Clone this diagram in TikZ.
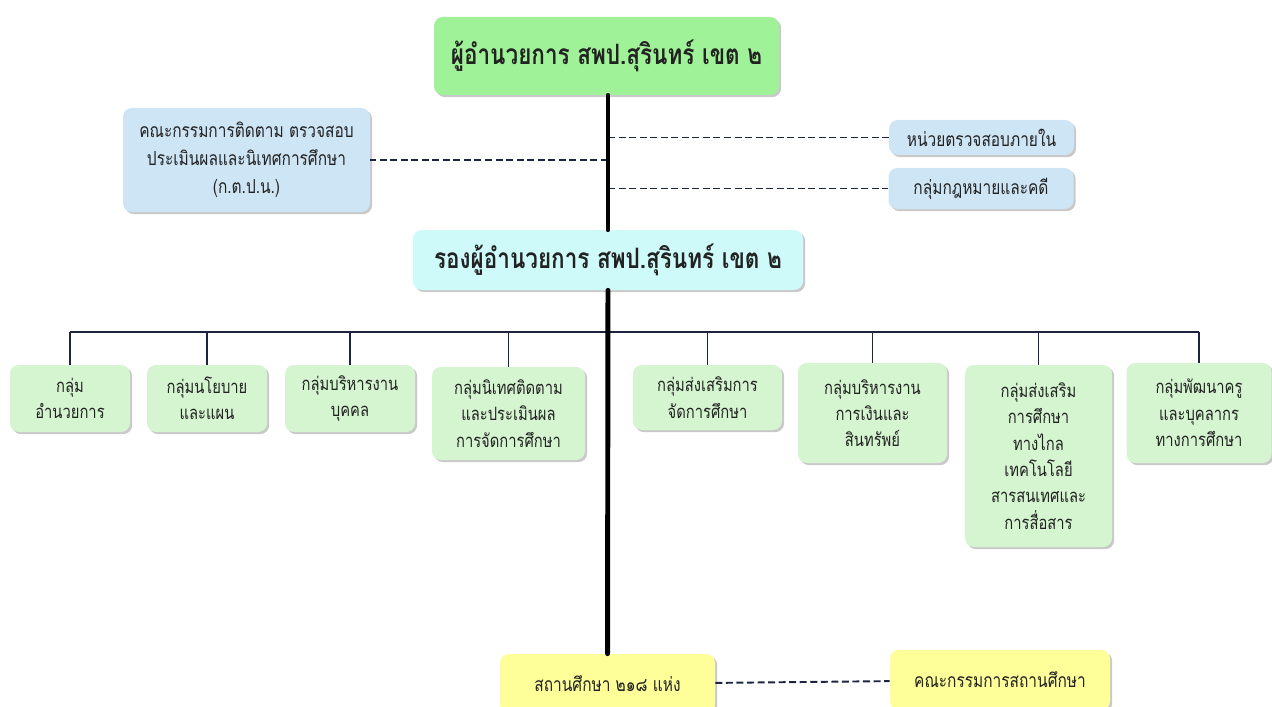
\documentclass[tikz,border=0pt]{standalone}
\usepackage{fontspec}
\usepackage{tikz}
\usetikzlibrary{shadows}
\newfontfamily\thai[Script=Thai,FakeStretch=0.8]{Loma}
\definecolor{headgreen}{RGB}{160,242,152}
\definecolor{paleblue}{RGB}{206,229,246}
\definecolor{palecyan}{RGB}{206,250,250}
\definecolor{groupgreen}{RGB}{213,245,208}
\definecolor{schoolyellow}{RGB}{255,255,153}
\definecolor{inkgray}{RGB}{34,34,34}
\definecolor{navyline}{RGB}{28,36,64}

\begin{document}
\begin{tikzpicture}

	\tikzset{unit/.style = {shape=rectangle,rounded corners=5pt,align=center,text=inkgray,inner sep=2pt,font=\thai\fontsize{11}{15}\selectfont,drop shadow={shadow xshift=1.2pt,shadow yshift=-1.2pt,opacity=0.3,fill=black!70}}}
	\tikzset{group/.style = {unit,fill=groupgreen,font=\thai\fontsize{10.5}{15}\selectfont}}
	\tikzset{head/.style = {unit,font=\thai\bfseries\fontsize{16}{18}\selectfont}}
	\tikzset{trunk/.style = {line width=2.8pt,line cap=round}}
	\tikzset{bus/.style = {line width=1.1pt,draw=navyline}}
	\tikzset{dashline/.style = {line width=1.1pt,draw=navyline,dash pattern=on 4pt off 2pt}}

	\useasboundingbox (0,0) rectangle (25.44,-14.12);
	\clip (0,0) rectangle (25.44,-14.12);

	% director and deputy
	\node[head,fill=headgreen,minimum width=6.9cm,minimum height=1.56cm] (top) at (12.13,-1.12) {ผู้อำนวยการ สพป.สุรินทร์ เขต ๒};
	\node[head,fill=palecyan,minimum width=7.8cm,minimum height=1.2cm] (rong) at (12.16,-5.2) {รองผู้อำนวยการ สพป.สุรินทร์ เขต ๒};

	% side units
	\node[unit,fill=paleblue,minimum width=4.94cm,minimum height=2.08cm,font=\thai\fontsize{11}{16}\selectfont] (kpn) at (4.93,-3.2) {คณะกรรมการติดตาม ตรวจสอบ\\ประเมินผลและนิเทศการศึกษา\\(ก.ต.ป.น.)};
	\node[unit,fill=paleblue,minimum width=3.7cm,minimum height=0.7cm] (audit) at (19.63,-2.75) {หน่วยตรวจสอบภายใน};
	\node[unit,fill=paleblue,minimum width=3.7cm,minimum height=0.82cm] (law) at (19.62,-3.77) {กลุ่มกฎหมายและคดี};

	% groups
	\node[group,minimum width=2.4cm,minimum height=1.34cm] (g1) at (1.4,-7.97) {กลุ่ม\\อำนวยการ};
	\node[group,minimum width=2.4cm,minimum height=1.34cm] (g2) at (4.14,-7.97) {กลุ่มนโยบาย\\และแผน};
	\node[group,minimum width=2.6cm,minimum height=1.34cm] (g3) at (7.0,-7.97) {กลุ่มบริหารงาน\\บุคคล};
	\node[group,minimum width=3.06cm,minimum height=1.86cm] (g4) at (10.17,-8.27) {กลุ่มนิเทศติดตาม\\และประเมินผล\\การจัดการศึกษา};
	\node[group,minimum width=2.98cm,minimum height=1.3cm] (g5) at (14.15,-7.95) {กลุ่มส่งเสริมการ\\จัดการศึกษา};
	\node[group,minimum width=2.98cm,minimum height=2.0cm] (g6) at (17.45,-8.26) {กลุ่มบริหารงาน\\การเงินและ\\สินทรัพย์};
	\node[group,minimum width=2.94cm,minimum height=3.64cm] (g7) at (20.77,-9.12) {กลุ่มส่งเสริม\\การศึกษา\\ทางไกล\\เทคโนโลยี\\สารสนเทศและ\\การสื่อสาร};
	\node[group,minimum width=2.9cm,minimum height=2.0cm] (g8) at (23.98,-8.26) {กลุ่มพัฒนาครู\\และบุคลากร\\ทางการศึกษา};

	% schools
	\node[unit,fill=schoolyellow,minimum width=4.3cm,minimum height=1.2cm] (school) at (12.15,-13.68) {สถานศึกษา ๒๑๘ แห่ง};
	\node[unit,fill=schoolyellow,minimum width=4.4cm,minimum height=1.2cm] (board) at (20.0,-13.6) {คณะกรรมการสถานศึกษา};

	\coordinate (bus) at (12.14,-6.64);

	\draw[bus] (g1.north |- bus) -- (g8.north |- bus);
	\draw[bus] (g1.north) -- (g1.north |- bus);
	\draw[bus] (g2.north) -- (g2.north |- bus);
	\draw[bus] (g3.north) -- (g3.north |- bus);
	\draw[bus] (g4.north) -- (g4.north |- bus);
	\draw[bus] (g5.north) -- (g5.north |- bus);
	\draw[bus] (g6.north) -- (g6.north |- bus);
	\draw[bus] (g7.north) -- (g7.north |- bus);
	\draw[bus] (g8.north) -- (g8.north |- bus);

	\draw[dashline] (kpn.east -| rong.north) -- (kpn.east);
	\draw[dashline] (audit.west -| rong.north) -- (audit.west);
	\draw[dashline] (law.west -| rong.north) -- (law.west);
	\draw[dashline] (school) -- (board);

	\draw[trunk] (top.south -| rong.north) -- (rong);
	\draw[trunk] (rong) -- (school);
	\end{tikzpicture}
\end{document}
